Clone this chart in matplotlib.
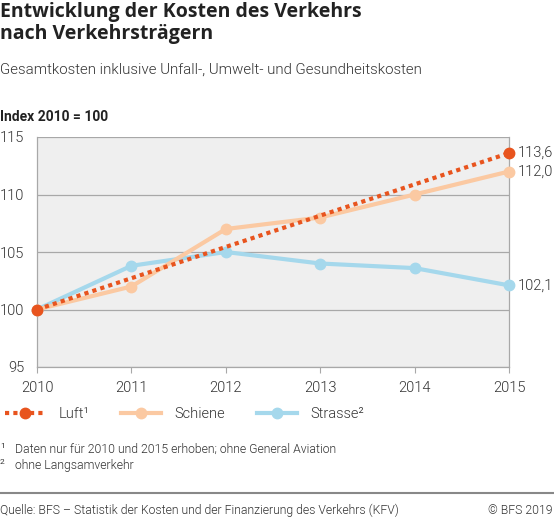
import matplotlib
matplotlib.use("Agg")
import matplotlib.pyplot as plt
from matplotlib.lines import Line2D

plt.rcParams['font.family'] = ['Roboto', 'DejaVu Sans']

# data (Index 2010 = 100)
jahre = [2010, 2011, 2012, 2013, 2014, 2015]
luft_jahre = [2010, 2015]
luft = [100.0, 113.6]
schiene = [100.0, 102.0, 107.0, 108.0, 110.0, 112.0]
strasse = [100.0, 103.8, 105.0, 104.0, 103.6, 102.1]

c_luft = '#e8541e'
c_schiene = '#fbc9a2'
c_strasse = '#a5d8ec'
c_text = '#333333'
light = 300

fig = plt.figure(figsize=(5.54, 5.19), dpi=100)
W, H = 554, 519

def fx(px):
    return px / W

def fy(py):
    return 1 - py / H

ax = fig.add_axes([fx(37), fy(367), fx(509) - fx(37), fy(137) - fy(367)])
ax.set_facecolor('#efefef')
ax.set_xlim(2010, 2015)
ax.set_ylim(95, 115)
ax.set_yticks([95, 100, 105, 110, 115])
ax.set_xticks(jahre)
ax.grid(axis='y', color='#a8a8a8', lw=0.9)
ax.set_axisbelow(True)
ax.spines['top'].set_visible(False)
for s in ['left', 'bottom', 'right']:
    ax.spines[s].set_color('#a8a8a8')
    ax.spines[s].set_linewidth(0.9)
ax.tick_params(axis='y', length=0, pad=9, labelsize=10.5, labelcolor=c_text)
ax.tick_params(axis='x', length=4, color='#a8a8a8', pad=6, labelsize=10.5, labelcolor=c_text)
for lab in ax.get_xticklabels() + ax.get_yticklabels():
    lab.set_fontweight(light)

ax.plot(jahre, strasse, color=c_strasse, lw=3, marker='o', ms=7.5, clip_on=False, zorder=3)
ax.plot(jahre, schiene, color=c_schiene, lw=3, marker='o', ms=7.5, clip_on=False, zorder=4)
ax.plot(luft_jahre, luft, color=c_luft, lw=3, ls=(0, (1, 1)), marker='o', ms=7.5,
        clip_on=False, zorder=5)

for v in [luft[-1], schiene[-1], strasse[-1]]:
    ax.annotate(f'{v:.1f}'.replace('.', ','), (2015, v), xytext=(6, 0),
                textcoords='offset points', va='center', ha='left', fontweight=light,
                fontsize=10.5, color=c_text, annotation_clip=False)

# titles
fig.text(fx(0), fy(2), 'Entwicklung der Kosten des Verkehrs\nnach Verkehrsträgern',
         fontsize=14, fontweight='bold', va='top', ha='left', color='#222222',
         linespacing=1.12, family=['Open Sans', 'DejaVu Sans'])
fig.text(fx(0), fy(70), 'Gesamtkosten inklusive Unfall-, Umwelt- und Gesundheitskosten',
         fontsize=10.8, fontweight=light, va='center', ha='left', color=c_text)
fig.text(fx(0), fy(117), 'Index 2010 = 100', fontsize=10, fontweight='bold',
         va='center', ha='left', color='#222222')

# legend
handles = [
    Line2D([], [], color=c_luft, lw=3, ls=(0, (1, 1)), marker='o', ms=7.5),
    Line2D([], [], color=c_schiene, lw=3, marker='o', ms=7.5),
    Line2D([], [], color=c_strasse, lw=3, marker='o', ms=7.5),
]
labels = ['Luft¹', 'Schiene', 'Strasse²']
leg = fig.legend(handles, labels, loc='center left', bbox_to_anchor=(fx(-8), fy(414)),
                 ncol=3, frameon=False, fontsize=10.5, handlelength=2.7, handletextpad=0.95,
                 columnspacing=2.2, labelcolor=c_text)
for t in leg.get_texts():
    t.set_fontweight(light)

# footnotes
fig.text(fx(0), fy(449), '1', fontsize=6, va='bottom', ha='left', color=c_text)
fig.text(fx(15), fy(449), 'Daten nur für 2010 und 2015 erhoben; ohne General Aviation',
         fontsize=8.8, fontweight=light, va='center', ha='left', color=c_text)
fig.text(fx(0), fy(465), '2', fontsize=6, va='bottom', ha='left', color=c_text)
fig.text(fx(15), fy(465), 'ohne Langsamverkehr', fontsize=8.8, fontweight=light,
         va='center', ha='left', color=c_text)

fig.add_artist(Line2D([0, 1], [fy(493), fy(493)], color='#888888', lw=1.5))
fig.text(fx(0), fy(510), 'Quelle: BFS – Statistik der Kosten und der Finanzierung des Verkehrs (KFV)',
         fontsize=8.8, fontweight=light, va='center', ha='left', color=c_text)
fig.text(fx(552), fy(510), '© BFS 2019', fontsize=8.8, fontweight=light,
         va='center', ha='right', color=c_text)

fig.savefig('out.png', dpi=100)
